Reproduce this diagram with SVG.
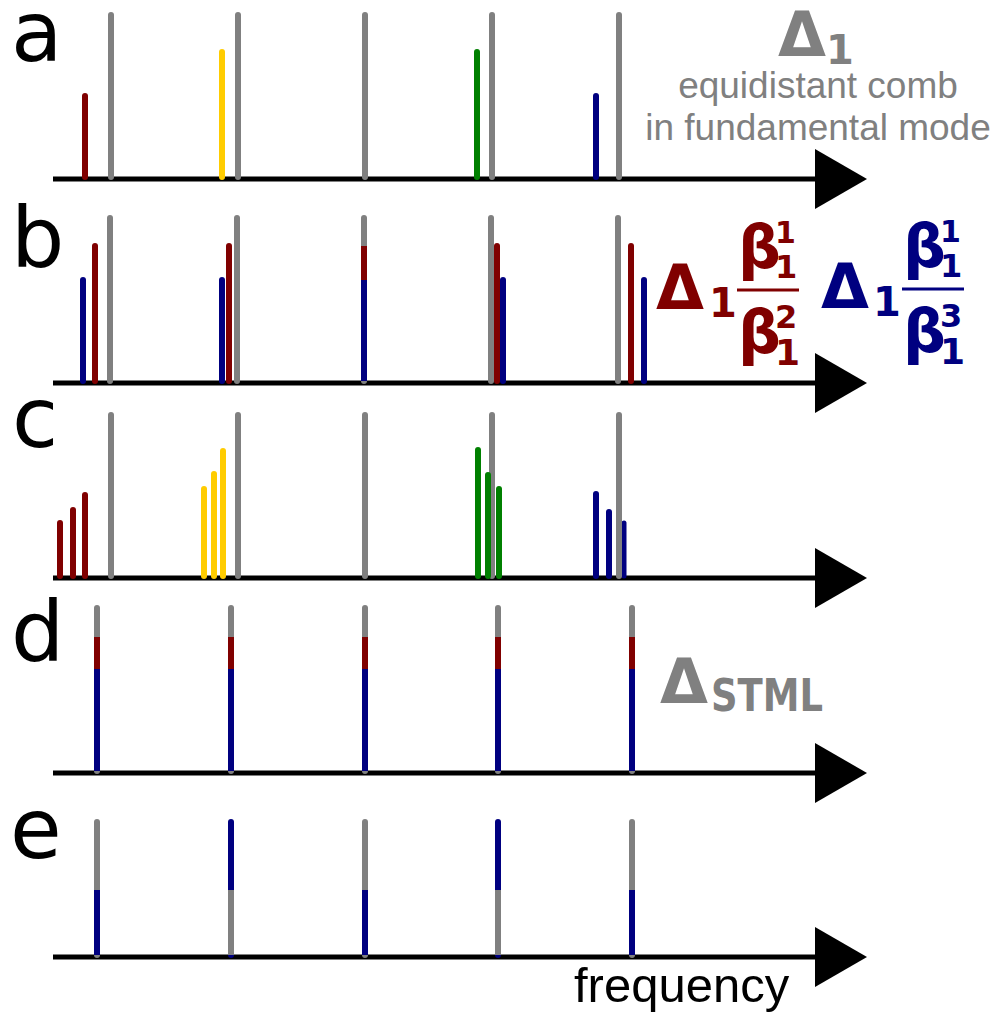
<svg xmlns="http://www.w3.org/2000/svg" width="997" height="1022" viewBox="0 0 997 1022">
<defs>
<style>
.g{stroke:#808080;stroke-width:6;stroke-linecap:round}
.r{stroke:#800000;stroke-width:6;stroke-linecap:round}
.y{stroke:#ffcc00;stroke-width:6;stroke-linecap:round}
.gr{stroke:#008000;stroke-width:6;stroke-linecap:round}
.b{stroke:#000080;stroke-width:6;stroke-linecap:round}
.flat{stroke-linecap:butt}
.ax{stroke:#000;stroke-width:5}
.lbl{font-family:"DejaVu Sans",sans-serif;font-size:84px;fill:#000}
.sym{font-family:"DejaVu Sans",sans-serif;font-weight:bold}
.txt{font-family:"Liberation Sans",Arial,sans-serif;fill:#808080}
</style>
<polygon id="head" points="0,-30 52,0 0,30" fill="#000"/>
</defs>
<g id="axes">
<line class="ax" x1="53" y1="179" x2="816" y2="179"/><use href="#head" x="815" y="179"/>
<line class="ax" x1="53" y1="383" x2="816" y2="383"/><use href="#head" x="815" y="383"/>
<line class="ax" x1="53" y1="578" x2="816" y2="578"/><use href="#head" x="815" y="578"/>
<line class="ax" x1="53" y1="773" x2="816" y2="773"/><use href="#head" x="815" y="773"/>
<line class="ax" x1="53" y1="957" x2="816" y2="957"/><use href="#head" x="815" y="957"/>
</g>
<g id="panel-a">
<text class="lbl" x="11" y="61">a</text>
<line class="g" x1="111" y1="15" x2="111" y2="177"/>
<line class="g" x1="238" y1="15" x2="238" y2="177"/>
<line class="g" x1="365" y1="15" x2="365" y2="177"/>
<line class="g" x1="492" y1="15" x2="492" y2="177"/>
<line class="g" x1="619" y1="15" x2="619" y2="177"/>
<line class="r" x1="85" y1="96" x2="85" y2="177"/>
<line class="y" x1="222" y1="52" x2="222" y2="177"/>
<line class="gr" x1="477" y1="52" x2="477" y2="177"/>
<line class="b" x1="596" y1="96" x2="596" y2="177"/>
<text class="sym" x="778" y="56" font-size="62" fill="#808080">Δ</text>
<text class="sym" x="826" y="64" font-size="40" fill="#808080">1</text>
<text class="txt" x="818" y="98" font-size="37" text-anchor="middle">equidistant comb</text>
<text class="txt" x="818" y="140" font-size="37" text-anchor="middle">in fundamental mode</text>
</g>
<g id="panel-b">
<text class="lbl" x="11" y="267">b</text>
<line class="g" x1="110" y1="218" x2="110" y2="381"/>
<line class="g" x1="237" y1="218" x2="237" y2="381"/>
<line class="g" x1="364" y1="218" x2="364" y2="381"/>
<line class="g" x1="491" y1="218" x2="491" y2="381"/>
<line class="g" x1="618" y1="218" x2="618" y2="381"/>
<line class="r" x1="95" y1="246" x2="95" y2="381"/>
<line class="r" x1="229" y1="246" x2="229" y2="381"/>
<line class="r flat" x1="364" y1="246" x2="364" y2="381"/>
<line class="r" x1="497" y1="246" x2="497" y2="381"/>
<line class="r" x1="631" y1="246" x2="631" y2="381"/>
<line class="b" x1="83" y1="280" x2="83" y2="381"/>
<line class="b" x1="222" y1="280" x2="222" y2="381"/>
<line class="b flat" x1="364" y1="280" x2="364" y2="381"/>
<line class="b" x1="503" y1="280" x2="503" y2="381"/>
<line class="b" x1="644" y1="280" x2="644" y2="381"/>
<g fill="#800000">
<text class="sym" x="656" y="309" font-size="62">Δ</text>
<text class="sym" x="709" y="317" font-size="40">1</text>
<line x1="737" y1="290" x2="799" y2="290" stroke="#800000" stroke-width="3"/>
<text class="sym" x="738" y="268" font-size="60">β</text>
<text class="sym" x="775" y="243" font-size="30">1</text>
<text class="sym" x="775" y="278" font-size="32">1</text>
<text class="sym" x="738" y="353" font-size="60">β</text>
<text class="sym" x="775" y="328" font-size="32">2</text>
<text class="sym" x="775" y="365" font-size="36">1</text>
</g>
<g fill="#000080">
<text class="sym" x="821" y="308" font-size="62">Δ</text>
<text class="sym" x="873" y="316" font-size="40">1</text>
<line x1="902" y1="289" x2="964" y2="289" stroke="#000080" stroke-width="3"/>
<text class="sym" x="903" y="267" font-size="60">β</text>
<text class="sym" x="940" y="242" font-size="30">1</text>
<text class="sym" x="940" y="277" font-size="32">1</text>
<text class="sym" x="903" y="352" font-size="60">β</text>
<text class="sym" x="940" y="327" font-size="32">3</text>
<text class="sym" x="940" y="364" font-size="36">1</text>
</g>
</g>
<g id="panel-c">
<text class="lbl" x="12" y="447">c</text>
<line class="g" x1="111" y1="415" x2="111" y2="576"/>
<line class="g" x1="238" y1="415" x2="238" y2="576"/>
<line class="g" x1="365" y1="415" x2="365" y2="576"/>
<line class="g" x1="492" y1="415" x2="492" y2="576"/>
<line class="r" x1="60" y1="523" x2="60" y2="576"/>
<line class="r" x1="73" y1="510" x2="73" y2="576"/>
<line class="r" x1="85" y1="495" x2="85" y2="576"/>
<line class="y" x1="204" y1="489" x2="204" y2="576"/>
<line class="y" x1="214" y1="474" x2="214" y2="576"/>
<line class="y" x1="223" y1="451" x2="223" y2="576"/>
<line class="gr" x1="478" y1="450" x2="478" y2="576"/>
<line class="gr" x1="488" y1="475" x2="488" y2="576"/>
<line class="gr" x1="499" y1="489" x2="499" y2="576"/>
<line class="b" x1="596" y1="494" x2="596" y2="576"/>
<line class="b" x1="609" y1="512" x2="609" y2="576"/>
<line class="b" x1="624" y1="523" x2="624" y2="576" style="stroke-width:5"/>
<line class="g" x1="619" y1="415" x2="619" y2="576"/>
</g>
<g id="panel-d">
<text class="lbl" x="11" y="661">d</text>
<line class="g" x1="97" y1="608" x2="97" y2="771"/>
<line class="g" x1="231" y1="608" x2="231" y2="771"/>
<line class="g" x1="365" y1="608" x2="365" y2="771"/>
<line class="g" x1="498" y1="608" x2="498" y2="771"/>
<line class="g" x1="632" y1="608" x2="632" y2="771"/>
<line class="r flat" x1="97" y1="637" x2="97" y2="771"/>
<line class="r flat" x1="231" y1="637" x2="231" y2="771"/>
<line class="r flat" x1="365" y1="637" x2="365" y2="771"/>
<line class="r flat" x1="498" y1="637" x2="498" y2="771"/>
<line class="r flat" x1="632" y1="637" x2="632" y2="771"/>
<line class="b flat" x1="97" y1="669" x2="97" y2="771"/>
<line class="b flat" x1="231" y1="669" x2="231" y2="771"/>
<line class="b flat" x1="365" y1="669" x2="365" y2="771"/>
<line class="b flat" x1="498" y1="669" x2="498" y2="771"/>
<line class="b flat" x1="632" y1="669" x2="632" y2="771"/>
<text class="sym" x="660" y="703" font-size="62" fill="#808080">Δ</text>
<text class="sym" x="711" y="711" font-size="45" fill="#808080" textLength="112" lengthAdjust="spacingAndGlyphs">STML</text>
</g>
<g id="panel-e">
<text class="lbl" x="10" y="858">e</text>
<line class="g" x1="97" y1="822" x2="97" y2="955"/>
<line class="b flat" x1="97" y1="890" x2="97" y2="955"/>
<line class="b" x1="231" y1="822" x2="231" y2="955"/>
<line class="g flat" x1="231" y1="890" x2="231" y2="955"/>
<line class="g" x1="365" y1="822" x2="365" y2="955"/>
<line class="b flat" x1="365" y1="890" x2="365" y2="955"/>
<line class="b" x1="498" y1="822" x2="498" y2="955"/>
<line class="g flat" x1="498" y1="890" x2="498" y2="955"/>
<line class="g" x1="632" y1="822" x2="632" y2="955"/>
<line class="b flat" x1="632" y1="890" x2="632" y2="955"/>
<text x="574" y="1002" font-family="Liberation Sans, Arial, sans-serif" font-size="49" fill="#000">frequency</text>
</g>
</svg>
